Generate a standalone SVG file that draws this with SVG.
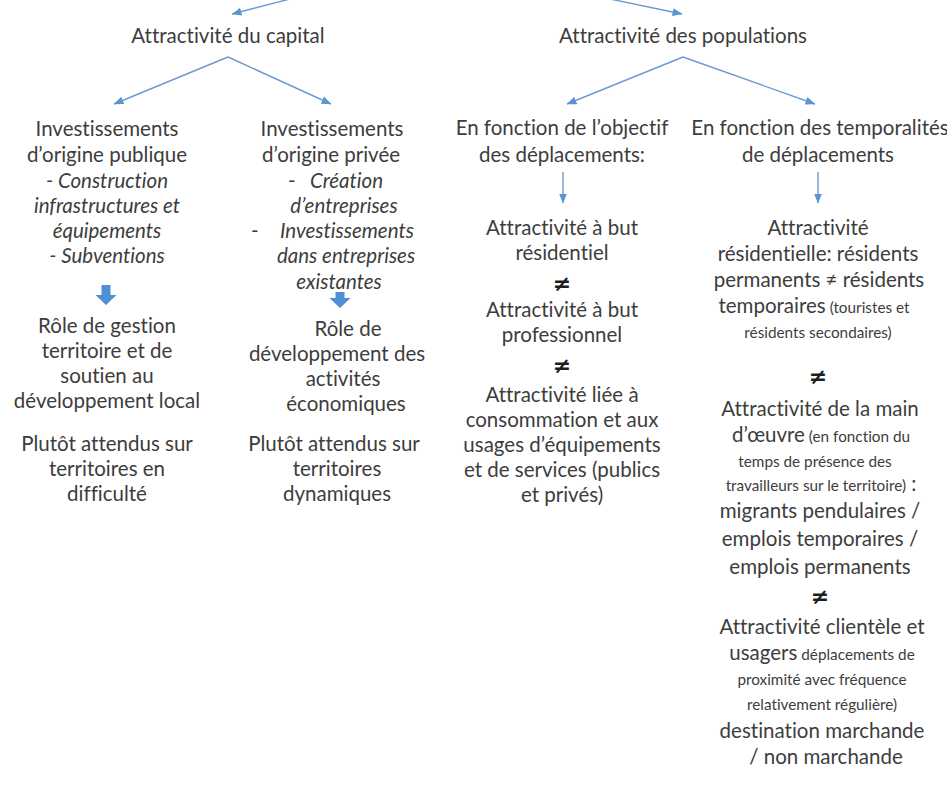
<svg xmlns="http://www.w3.org/2000/svg" width="947" height="787" viewBox="0 0 947 787">
<style>
  text { font-family: Lato, "Open Sans", sans-serif; fill: #3d3d3d; text-anchor: middle; font-variant-ligatures: none; font-feature-settings: "liga" 0, "clig" 0; }
  .m { font-size: 20.5px; }
  .s { font-size: 15.3px; }
  .i { font-style: italic; font-size: 20.5px; }
  .st { text-anchor: start; }
  .ne { font-size: 22px; font-weight: bold; fill: #1e1e1e; font-family: "DejaVu Sans", sans-serif; }
  .ln { stroke: #6a9bd1; stroke-width: 1.4; fill: none; }
  .blk { fill: #4f8fd6; }
</style>
<defs>
  <marker id="ah" markerUnits="userSpaceOnUse" markerWidth="10" markerHeight="10" viewBox="0 0 10 10" refX="9.5" refY="5" orient="auto">
    <path d="M0,1 L10,5 L0,9 z" fill="#5b95d0"/>
  </marker>
</defs>
<rect width="947" height="787" fill="#ffffff"/>

<g id="connectors">
  <line class="ln" x1="290" y1="-1" x2="232" y2="14" marker-end="url(#ah)"/>
  <line class="ln" x1="610" y1="-1" x2="682" y2="14" marker-end="url(#ah)"/>
  <line class="ln" x1="228" y1="57" x2="114" y2="104" marker-end="url(#ah)"/>
  <line class="ln" x1="228" y1="57" x2="331" y2="104" marker-end="url(#ah)"/>
  <line class="ln" x1="683" y1="57" x2="567" y2="104" marker-end="url(#ah)"/>
  <line class="ln" x1="683" y1="57" x2="815" y2="104" marker-end="url(#ah)"/>
  <line class="ln" x1="563" y1="172" x2="563" y2="203" marker-end="url(#ah)"/>
  <line class="ln" x1="818" y1="172" x2="818" y2="203" marker-end="url(#ah)"/>
  <path class="blk" d="M101.5,285 h9 v10 h6 l-10.5,10 l-10.5,-10 h6 z"/>
  <path class="blk" d="M335.5,292 h9 v6 h6 l-10.5,10 l-10.5,-10 h6 z"/>
</g>

<g id="node-capital">
  <text class="m" x="228" y="43">Attractivité du capital</text>
</g>
<g id="node-populations">
  <text class="m" x="683" y="43">Attractivité des populations</text>
</g>

<g id="node-public">
  <text class="m" x="107" y="136">Investissements</text>
  <text class="m" x="107" y="162">d’origine publique</text>
  <text class="i" x="107" y="188">- Construction</text>
  <text class="i" x="107" y="213">infrastructures et</text>
  <text class="i" x="107" y="238">équipements</text>
  <text class="i" x="107" y="263">- Subventions</text>
</g>
<g id="node-role-public">
  <text class="m" x="107" y="333">Rôle de gestion</text>
  <text class="m" x="107" y="358">territoire et de</text>
  <text class="m" x="107" y="383">soutien au</text>
  <text class="m" x="107" y="408">développement local</text>
</g>
<g id="node-attendus-public">
  <text class="m" x="107" y="451">Plutôt attendus sur</text>
  <text class="m" x="107" y="476">territoires en</text>
  <text class="m" x="107" y="501">difficulté</text>
</g>

<g id="node-prive">
  <text class="m" x="332" y="136">Investissements</text>
  <text class="m" x="331" y="162">d’origine privée</text>
  <text class="m st" x="288" y="188">-</text>
  <text class="i st" x="310" y="188">Création</text>
  <text class="i" x="344" y="213">d’entreprises</text>
  <text class="m st" x="251" y="238">-</text>
  <text class="i st" x="280" y="238">Investissements</text>
  <text class="i" x="346" y="263">dans entreprises</text>
  <text class="i" x="339" y="289">existantes</text>
</g>
<g id="node-role-prive">
  <text class="m" x="348" y="336">Rôle de</text>
  <text class="m" x="337" y="361">développement des</text>
  <text class="m" x="343" y="386">activités</text>
  <text class="m" x="346" y="411">économiques</text>
</g>
<g id="node-attendus-prive">
  <text class="m" x="334" y="451">Plutôt attendus sur</text>
  <text class="m" x="337" y="476">territoires</text>
  <text class="m" x="337" y="501">dynamiques</text>
</g>

<g id="node-objectif">
  <text class="m" x="562" y="135">En fonction de l’objectif</text>
  <text class="m" x="562" y="162">des déplacements:</text>
</g>
<g id="node-objectif-items">
  <text class="m" x="562" y="235">Attractivité à but</text>
  <text class="m" x="562" y="260">résidentiel</text>
  <text class="ne" x="562" y="291">≠</text>
  <text class="m" x="562" y="317">Attractivité à but</text>
  <text class="m" x="562" y="342">professionnel</text>
  <text class="ne" x="562" y="373">≠</text>
  <text class="m" x="562" y="402">Attractivité liée à</text>
  <text class="m" x="562" y="427">consommation et aux</text>
  <text class="m" x="562" y="452">usages d’équipements</text>
  <text class="m" x="562" y="477">et de services (publics</text>
  <text class="m" x="562" y="502">et privés)</text>
</g>

<g id="node-temporalites">
  <text class="m" x="820" y="135">En fonction des temporalités</text>
  <text class="m" x="818" y="162">de déplacements</text>
</g>
<g id="node-temporalites-items">
  <text class="m" x="818" y="235">Attractivité</text>
  <text class="m" x="818" y="261">résidentielle: résidents</text>
  <text class="m" x="819" y="287">permanents ≠ résidents</text>
  <text class="m" x="814" y="313">temporaires<tspan class="s"> (touristes et</tspan></text>
  <text class="s" x="818" y="338">résidents secondaires)</text>
  <text class="ne" x="818" y="384">≠</text>
  <text class="m" x="820" y="416">Attractivité de la main</text>
  <text class="m" x="821" y="442">d’œuvre<tspan class="s"> (en fonction du</tspan></text>
  <text class="s" x="815" y="467">temps de présence des</text>
  <text class="s" x="821" y="491">travailleurs sur le territoire)<tspan class="m"> :</tspan></text>
  <text class="m" x="820" y="518">migrants pendulaires /</text>
  <text class="m" x="820" y="546">emplois temporaires /</text>
  <text class="m" x="820" y="574">emplois permanents</text>
  <text class="ne" x="820" y="604">≠</text>
  <text class="m" x="822" y="634">Attractivité clientèle et</text>
  <text class="m" x="822" y="660">usagers<tspan class="s"> déplacements de</tspan></text>
  <text class="s" x="822" y="685">proximité avec fréquence</text>
  <text class="s" x="822" y="710">relativement régulière)</text>
  <text class="m" x="822" y="738">destination marchande</text>
  <text class="m" x="826" y="764">/ non marchande</text>
</g>
</svg>
